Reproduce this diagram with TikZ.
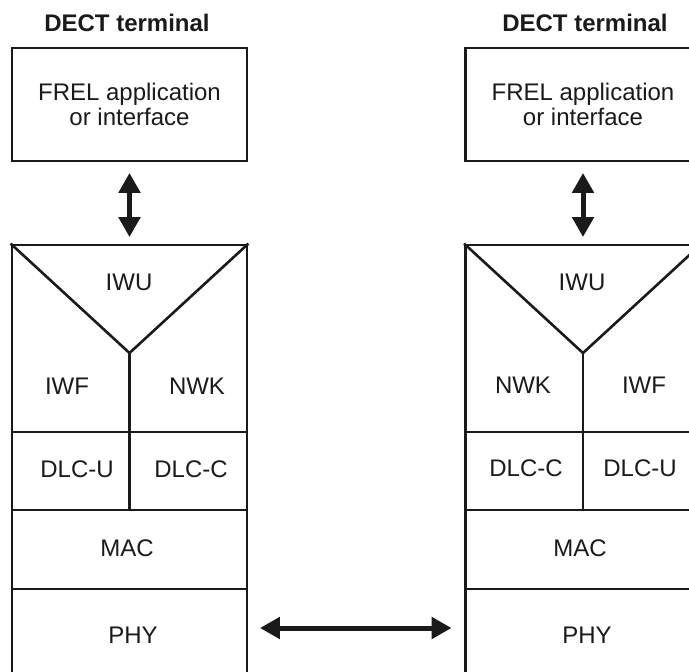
\documentclass[tikz,border=0pt]{standalone}
\usepackage{fontspec}
\setmainfont{Liberation Sans}
\usetikzlibrary{arrows.meta}
\definecolor{ink}{HTML}{1A1A1A}
\begin{document}
\begin{tikzpicture}[x=1pt,y=-1pt, line join=miter,
  every node/.style={font=\fontsize{24}{25}\selectfont, text=ink},
  title/.style={font=\fontsize{24}{25}\selectfont\bfseries},
  box/.style={draw=ink, line width=2.8pt, inner sep=0pt, minimum width=235pt, align=center},
  rule/.style={draw=ink, line width=2.6pt},
  dblarrow/.style={draw=ink, line width=5pt,
    {Triangle[width=21pt,length=20pt]}-{Triangle[width=21pt,length=20pt]}},
]
\useasboundingbox (0,0) rectangle (689,672);
\clip (0,0) rectangle (689,672);

% ---------- left terminal ----------
\node[title] (titleL) at (127,23) {DECT terminal};
\node[box, minimum height=113pt] (frelL) at (129.5,104.5) {FREL application\\or interface};
\node[box, minimum height=187pt] (upperL) at (129.5,338.5) {};
\node[box, minimum height=78pt]  (dlcL)   at (129.5,471) {};
\node[box, minimum height=79pt]  (macL)   at (129.5,549.5) {};
\node[box, minimum height=96pt]  (phyL)   at (129.5,637) {};
\coordinate (apexL) at (129.5,353);
\draw[rule] (upperL.north west) -- (apexL) -- (upperL.north east);
\draw[rule] (apexL) -- (apexL |- dlcL.south);
\node (iwuL)  at (129,282) {IWU};
\node (iwfL)  at (67,386)  {IWF};
\node (nwkL)  at (197,386) {NWK};
\node (dlcuL) at (77,469)  {DLC-U};
\node (dlccL) at (191,469) {DLC-C};
\node (macLt) at (127,548) {MAC};
\node (phyLt) at (133,635) {PHY};

% ---------- right terminal ----------
\node[title] (titleR) at (585,23) {DECT terminal};
\node[box, minimum height=113pt] (frelR) at (583,104.5) {FREL application\\or interface};
\node[box, minimum height=187pt] (upperR) at (583,338.5) {};
\node[box, minimum height=78pt]  (dlcR)   at (583,471) {};
\node[box, minimum height=79pt]  (macR)   at (583,549.5) {};
\node[box, minimum height=96pt]  (phyR)   at (583,637) {};
\coordinate (apexR) at (583,353);
\draw[rule] (upperR.north west) -- (apexR) -- (upperR.north east);
\draw[rule] (apexR) -- (apexR |- dlcR.south);
\node (iwuR)  at (582,282) {IWU};
\node (nwkR)  at (523,385) {NWK};
\node (iwfR)  at (644,385) {IWF};
\node (dlccR) at (526,468) {DLC-C};
\node (dlcuR) at (640,468) {DLC-U};
\node (macRt) at (580,548) {MAC};
\node (phyRt) at (587,635) {PHY};

% ---------- connectors ----------
\draw[dblarrow, shorten <=10.5pt, shorten >=6.5pt] (frelL) -- (upperL);
\draw[dblarrow, shorten <=10.5pt, shorten >=6.5pt] (frelR) -- (upperR);
\draw[dblarrow, shorten <=11.5pt, shorten >=12.5pt]
  ([yshift=9pt]phyL.east) -- ([yshift=9pt]phyR.west);
\end{tikzpicture}
\end{document}
